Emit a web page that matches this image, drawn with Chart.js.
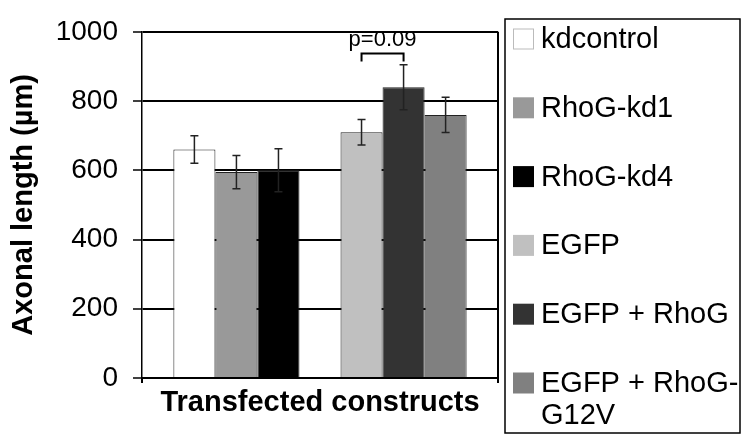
<!DOCTYPE html>
<html>
<head>
<meta charset="utf-8">
<script src="https://cdn.jsdelivr.net/npm/chart.js@4.4.1/dist/chart.umd.min.js"></script>
<style>
  html, body { margin: 0; padding: 0; background: #fff; }
  #wrap { width: 744px; height: 437px; }
</style>
</head>
<body>
<div id="wrap"><canvas id="axonChart"></canvas></div>
<script>
var groupPos = [0, 1];
var constructs = ['kdcontrol', 'RhoG-kd1', 'RhoG-kd4', 'EGFP', 'EGFP + RhoG', 'EGFP + RhoG-G12V'];
var legendLines = [['kdcontrol'], ['RhoG-kd1'], ['RhoG-kd4'], ['EGFP'], ['EGFP + RhoG'], ['EGFP + RhoG-', 'G12V']];
var groupIndex = [0, 0, 0, 1, 1, 1];
var meanLength = [660, 595, 600, 710, 840, 760];
var errLength = [40, 48, 62, 37, 65, 51];
var yTicks = [0, 200, 400, 600, 800, 1000];
var barColors = ['#ffffff', '#999999', '#000000', '#c0c0c0', '#333333', '#808080'];
var pLabel = 'p=0.09';
var pPair = [3, 4];
var pBracket = [937, 914];

Chart.defaults.font.family = "'Liberation Sans', Arial, sans-serif";
Chart.defaults.color = '#000';

var datasets = constructs.map(function (name, i) {
    return {
        label: name,
        data: groupPos.map(function (g, j) { return j === groupIndex[i] ? meanLength[i] : null; }),
        backgroundColor: barColors[i],
        borderColor: '#222',
        borderWidth: 1,
        skipNull: true
    };
});

// error bars + p-value bracket
var errorBars = {
    id: 'errorBars',
    afterDatasetsDraw: function (chart) {
        var ctx = chart.ctx, y = chart.scales.y;
        ctx.save();
        ctx.strokeStyle = '#222';
        ctx.lineWidth = 1.5;
        constructs.forEach(function (name, i) {
            var bar = chart.getDatasetMeta(i).data[groupIndex[i]];
            var top = y.getPixelForValue(meanLength[i] + errLength[i]);
            var bot = y.getPixelForValue(meanLength[i] - errLength[i]);
            ctx.beginPath();
            ctx.moveTo(bar.x, top); ctx.lineTo(bar.x, bot);
            ctx.moveTo(bar.x - 4, top); ctx.lineTo(bar.x + 4, top);
            ctx.moveTo(bar.x - 4, bot); ctx.lineTo(bar.x + 4, bot);
            ctx.stroke();
        });

        var x1 = chart.getDatasetMeta(pPair[0]).data[groupIndex[pPair[0]]].x;
        var x2 = chart.getDatasetMeta(pPair[1]).data[groupIndex[pPair[1]]].x;
        var yb = y.getPixelForValue(pBracket[0]), yl = y.getPixelForValue(pBracket[1]);
        ctx.strokeStyle = '#000';
        ctx.lineWidth = 2;
        ctx.beginPath();
        ctx.moveTo(x1, yl); ctx.lineTo(x1, yb); ctx.lineTo(x2, yb); ctx.lineTo(x2, yl);
        ctx.stroke();
        ctx.fillStyle = '#000';
        ctx.font = "22px 'Liberation Sans', Arial, sans-serif";
        ctx.textAlign = 'center';
        ctx.textBaseline = 'alphabetic';
        ctx.fillText(pLabel, (x1 + x2) / 2, yb - 8);
        ctx.restore();
    }
};

// right border of plot and boxed legend
var frameAndLegend = {
    id: 'frameAndLegend',
    afterDraw: function (chart) {
        var ctx = chart.ctx, a = chart.chartArea;
        ctx.save();
        ctx.strokeStyle = '#000';
        ctx.lineWidth = 2;
        ctx.beginPath();
        ctx.moveTo(a.right, a.top); ctx.lineTo(a.right, a.bottom + 5);
        ctx.moveTo(a.left, a.bottom); ctx.lineTo(a.left, a.bottom + 5);
        ctx.stroke();

        var left = a.right + 7, top = 19, right = chart.width - 4, bottom = chart.height - 4;
        ctx.lineWidth = 1.5;
        ctx.strokeRect(left, top, right - left, bottom - top);

        var step = 68.8, first = 39;
        ctx.font = "29px 'Liberation Sans', Arial, sans-serif";
        ctx.textAlign = 'left';
        ctx.textBaseline = 'middle';
        legendLines.forEach(function (lines, i) {
            var cy = first + i * step;
            ctx.fillStyle = barColors[i];
            ctx.fillRect(left + 8, cy - 10.5, 21, 21);
            if (i === 0) {
                ctx.strokeStyle = '#bbb';
                ctx.lineWidth = 1;
                ctx.strokeRect(left + 8.5, cy - 10, 20, 20);
            }
            ctx.fillStyle = '#000';
            lines.forEach(function (t, k) {
                ctx.fillText(t, left + 36, cy + 1 + k * 32);
            });
        });
        ctx.restore();
    }
};

var ctx = document.getElementById('axonChart').getContext('2d');
var axonChart = new Chart(ctx, {
    type: 'bar',
    data: {
        labels: groupPos,
        datasets: datasets
    },
    options: {
        responsive: true,
        maintainAspectRatio: false,
        animation: false,
        layout: { padding: { top: 28, right: 246, bottom: 0, left: 0 } },
        categoryPercentage: 0.7545,
        barPercentage: 1.0,
        plugins: {
            legend: { display: false },
            tooltip: { enabled: false }
        },
        scales: {
            x: {
                type: 'linear',
                min: -0.565,
                max: 1.565,
                offset: false,
                afterBuildTicks: function (s) { s.ticks = groupPos.map(function (v) { return { value: v }; }); },
                afterFit: function (s) { s.height = 59; },
                grid: { display: false },
                border: { color: '#000', width: 2 },
                ticks: { display: false },
                title: {
                    display: true,
                    text: 'Transfected constructs',
                    color: '#000',
                    font: { size: 29, weight: 'bold' },
                    padding: { top: 8, bottom: 17 }
                }
            },
            y: {
                min: 0,
                max: 1000,
                afterFit: function (s) { s.width = 142; },
                afterBuildTicks: function (s) { s.ticks = yTicks.map(function (v) { return { value: v }; }); },
                grid: { color: '#000', lineWidth: 2, tickLength: 9, tickColor: '#000', tickWidth: 1.5 },
                border: { color: '#000', width: 1.5 },
                ticks: {
                    color: '#000',
                    font: { size: 28 },
                    padding: 15,
                    callback: function (v) { return String(v); }
                },
                title: {
                    display: true,
                    text: 'Axonal length (µm)',
                    color: '#000',
                    font: { size: 29, weight: 'bold' },
                    padding: { top: 7, bottom: 0 }
                }
            }
        }
    },
    plugins: [errorBars, frameAndLegend]
});
</script>
</body>
</html>
